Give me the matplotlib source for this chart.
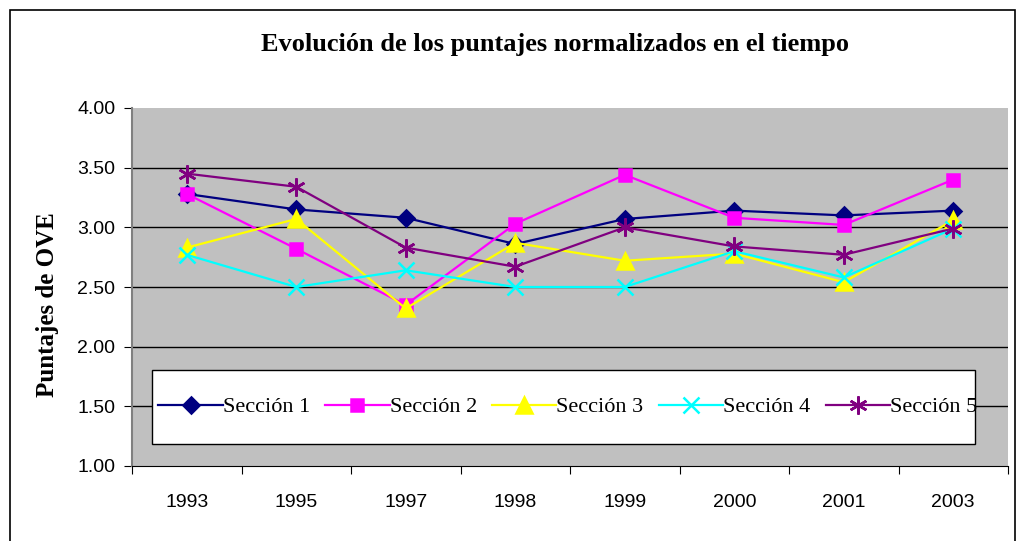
import numpy as np
import matplotlib
matplotlib.use('agg')
import matplotlib.pyplot as plt
from matplotlib.patches import Rectangle

# data
years = ['1993', '1995', '1997', '1998', '1999', '2000', '2001', '2003']
seccion1 = [3.28, 3.15, 3.08, 2.86, 3.07, 3.14, 3.10, 3.14]
seccion2 = [3.28, 2.82, 2.35, 3.03, 3.44, 3.08, 3.02, 3.40]
seccion3 = [2.83, 3.07, 2.32, 2.87, 2.72, 2.78, 2.54, 3.06]
seccion4 = [2.77, 2.50, 2.64, 2.50, 2.50, 2.80, 2.58, 2.99]
seccion5 = [3.45, 3.34, 2.83, 2.67, 3.00, 2.84, 2.77, 2.99]
labels = ['Sección 1', 'Sección 2', 'Sección 3', 'Sección 4', 'Sección 5']

fig = plt.figure(figsize=(10.23, 5.41), dpi=100)
ax = fig.add_axes([132/1023, 75/541, 876/1023, 358/541])
ax.set_facecolor('#C0C0C0')

# outer chart border
fig.patches.append(Rectangle((10/1023, -0.05), 1005/1023, 1.05 - 10/541,
                             transform=fig.transFigure, fill=False,
                             edgecolor='black', linewidth=1.2))

x = np.arange(len(years))
series = [seccion1, seccion2, seccion3, seccion4, seccion5]
colors = ['#000080', '#FF00FF', '#FFFF00', '#00FFFF', '#800080']
markers = ['D', 's', '^', 'x', (6, 2, 0)]
sizes = [8, 9, 11, 11, 13]

for y, c, m, s, lab in zip(series, colors, markers, sizes, labels):
    ax.plot(x, y, color=c, marker=m, markersize=s, linewidth=1.6,
            markeredgewidth=1.8, markerfacecolor=c, markeredgecolor=c,
            label=lab, zorder=3)

# y axis
ax.set_ylim(1.0, 4.0)
ax.set_yticks(np.arange(1.0, 4.01, 0.5))
ax.set_yticklabels(['%.2f' % v for v in np.arange(1.0, 4.01, 0.5)],
                   fontsize=14, family='Liberation Sans')
for v in np.arange(1.5, 3.51, 0.5):
    ax.axhline(v, color='black', linewidth=1.0, zorder=1)

# x axis, ticks between categories
ax.set_xlim(-0.5, len(years) - 0.5)
ax.set_xticks(np.arange(-0.5, len(years), 1.0))
ax.set_xticklabels([])
ax.set_xticks(x, minor=True)
ax.set_xticklabels(years, minor=True, fontsize=14, family='Liberation Sans')
ax.tick_params(axis='x', which='minor', length=0, pad=20)
ax.tick_params(axis='x', which='major', length=6, direction='out')
ax.tick_params(axis='y', length=6, direction='out', pad=6)

ax.spines['top'].set_visible(False)
ax.spines['right'].set_visible(False)
ax.spines['left'].set_color('#808080')
ax.spines['left'].set_linewidth(1.5)
ax.spines['bottom'].set_color('black')

ax.set_ylabel('Puntajes de OVE', fontsize=18, fontweight='bold',
              family='Liberation Serif')
ax.yaxis.set_label_coords(-0.083, 0.45)
fig.text(555/1023, 1 - 45/541, 'Evolución de los puntajes normalizados en el tiempo',
         ha='center', va='center', fontsize=19, fontweight='bold',
         family='Liberation Serif')

# legend box drawn by hand, entries placed inside it
ax.add_patch(Rectangle((0.023, 0.061), 0.939, 0.207, transform=ax.transAxes,
                       facecolor='white', edgecolor='black', linewidth=1.0,
                       zorder=4))
leg = ax.legend(loc='center left', bbox_to_anchor=(0.03, 0.061, 0.935, 0.207),
                mode='expand', ncol=5, frameon=False,
                prop={'family': 'Liberation Serif', 'size': 16},
                handlelength=2.9, handletextpad=0.0, columnspacing=0.5,
                borderpad=0.0, borderaxespad=0)
leg.set_zorder(5)

plt.savefig('out.png', dpi=100)
